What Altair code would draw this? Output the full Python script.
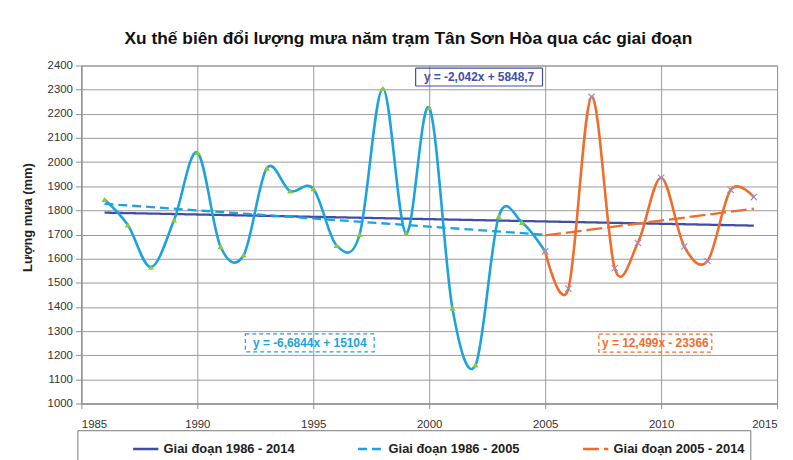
import altair as alt
import pandas as pd

# ---- data ----
years = list(range(1986, 2015))
rain = [1845, 1740, 1565, 1760, 2040, 1650, 1615, 1975, 1880, 1890,
        1655, 1700, 2305, 1705, 2225, 1395, 1160, 1775, 1750, 1630,
        1475, 2270, 1560, 1665, 1935, 1650, 1590, 1885, 1855]

periods = ["Giai đoạn 1986 - 2014", "Giai đoạn 1986 - 2005", "Giai đoạn 2005 - 2014"]
period_ranges = [(1986, 2014), (1986, 2005), (2005, 2014)]
period_colors = ["#3f4ea8", "#1aa3dd", "#f26b2a"]
period_dash = [[1, 0], [9, 5], [16, 5]]

eq_texts = ["y = -2,042x + 5848,7", "y = -6,6844x + 15104", "y = 12,499x - 23366"]
eq_x = [2002.15, 1994.85, 2009.75]
eq_y = [2352, 1251, 1250]
eq_box_w = [128, 130, 114]
eq_dash = [[1, 0], [4, 3], [4, 3]]

x_ticks = list(range(1985, 2016, 5))
y_ticks = list(range(1000, 2401, 100))

TITLE = "Xu thế biên đổi lượng mưa năm trạm Tân Sơn Hòa qua các giai đoạn"
YTITLE = "Lượng mưa (mm)"
FONT = "Liberation Sans"

df = pd.DataFrame({"year": years, "value": rain})
s1 = df[(df.year >= 1986) & (df.year <= 2005)]
s2 = df[(df.year >= 2005) & (df.year <= 2014)]

rows = []
for p, (a, b) in zip(periods, period_ranges):
    for y, v in zip(years, rain):
        if a <= y <= b:
            rows.append({"period": p, "year": y, "value": v})
trend_df = pd.DataFrame(rows)

xscale = alt.Scale(domain=[1985, 2015], nice=False, zero=False)
yscale = alt.Scale(domain=[1000, 2400], nice=False, zero=False)

xaxis = alt.Axis(values=x_ticks, tickCount=len(x_ticks), format="d", title=None,
                 grid=True, tickSize=5, labelPadding=10, labelOverlap=False)
yaxis = alt.Axis(values=y_ticks, tickCount=len(y_ticks), format="d", title=YTITLE,
                 grid=True, tickSize=6, labelPadding=3, labelOverlap=False,
                 titleAngle=-90, titleX=-54, titleY=153,
                 titleAlign="center", titleBaseline="middle")


def X():
    return alt.X("year:Q", scale=xscale, axis=xaxis)


def Y():
    return alt.Y("value:Q", scale=yscale, axis=yaxis)


pad = "\u00a0" * 13
trend = alt.Chart(trend_df).transform_regression(
    "year", "value", groupby=["period"]
).mark_line(strokeWidth=2.3).encode(
    x=X(),
    y=Y(),
    color=alt.Color("period:N", scale=alt.Scale(domain=periods, range=period_colors),
                    legend=alt.Legend(title="\u00a0", titleOrient="left", titlePadding=50,
                                      orient="none", legendX=-4, legendY=368,
                                      direction="horizontal", columns=3,
                                      columnPadding=58, symbolType="stroke",
                                      symbolSize=650, symbolStrokeWidth=2.5,
                                      labelLimit=500,
                                      labelExpr="datum.label == 'Giai đoạn 2005 - 2014' ? datum.label + '" + pad + "' : datum.label")),
    strokeDash=alt.StrokeDash("period:N", scale=alt.Scale(domain=periods, range=period_dash),
                              legend=None),
)

line1 = alt.Chart(s1).mark_line(interpolate="cardinal", tension=0, color="#1aa3dd",
                                strokeWidth=2.6).encode(x=X(), y=Y())
line2 = alt.Chart(s2).mark_line(interpolate="cardinal", tension=0, color="#f26b2a",
                                strokeWidth=2.6).encode(x=X(), y=Y())
pts1 = alt.Chart(s1).mark_point(shape="triangle-up", filled=True, color="#8dc63f",
                                size=36, opacity=1).encode(x=X(), y=Y())
pts2 = alt.Chart(s2).mark_point(shape="M-1,-1L1,1M-1,1L1,-1", filled=False,
                                color="#9b90c4", size=40, strokeWidth=1.2,
                                opacity=1).encode(x=X(), y=Y())

layers = [trend, line1, line2, pts1, pts2]
for t, x, y, w, d, c in zip(eq_texts, eq_x, eq_y, eq_box_w, eq_dash, period_colors):
    edf = pd.DataFrame({"year": [x], "value": [y], "label": [t]})
    box = alt.Chart(edf).mark_rect(width=w, height=18, fill=None, fillOpacity=0,
                                   stroke=c, strokeWidth=1.2,
                                   strokeDash=d).encode(x=X(), y=Y())
    txt = alt.Chart(edf).mark_text(font=FONT, fontSize=12, fontWeight="bold",
                                   color=c, align="center", baseline="middle"
                                   ).encode(x=X(), y=Y(), text="label:N")
    layers += [box, txt]

chart = alt.layer(*layers).properties(
    width=702, height=341,
    title=alt.TitleParams(TITLE, font=FONT, fontSize=17.5, fontWeight="bold",
                          color="#111", anchor="middle", dx=-21, offset=12),
    autosize=alt.AutoSizeParams(type="none"),
    padding={"left": 74, "top": 56, "right": 8, "bottom": 55},
).configure_view(stroke="#8f8f8f", strokeWidth=1).configure_axis(
    gridColor="#9a9a9a", gridWidth=1, domainColor="#8f8f8f", tickColor="#8f8f8f",
    labelFont=FONT, labelFontSize=11.5, labelColor="#333",
    titleFont=FONT, titleFontSize=13, titleFontWeight="bold", titleColor="#222",
).configure_legend(
    labelFont=FONT, labelFontSize=13, labelFontWeight="bold", labelColor="#222",
    strokeColor="#777", padding=5, labelOffset=4, cornerRadius=0,
    titleFont=FONT, titleFontSize=11,
)

chart.save("out.html", embed_options={"renderer": "svg", "actions": False})
